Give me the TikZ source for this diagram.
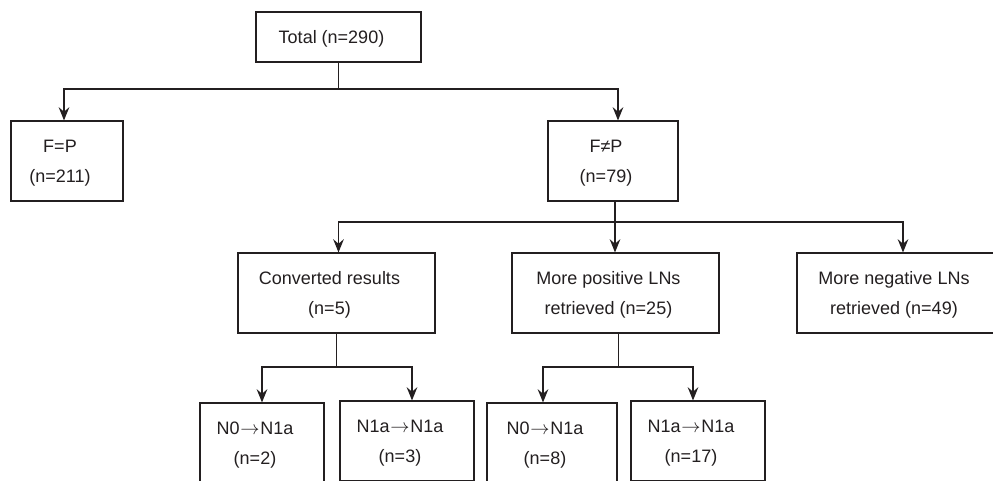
\documentclass[tikz,border=0pt]{standalone}
\usepackage{fontspec}
\setmainfont{Liberation Sans}
\usetikzlibrary{arrows.meta}
\definecolor{ink}{HTML}{231F20}
\newcommand{\tx}[1]{\begin{tabular}{@{}c@{}}#1\end{tabular}\hspace{10.5pt}}
\newcommand{\ar}{\kern0.5pt$\rightarrow$\kern0.5pt}
\begin{document}
\begin{tikzpicture}[x=0.75pt,y=-0.75pt,
  box/.style={draw=ink, line width=0.8pt, inner sep=0pt, text=ink,
    font=\fontsize{13.5}{22.5}\selectfont, align=center},
  conn/.style={draw=ink, line width=0.85pt},
  arr/.style={conn, -{Stealth[length=10pt,width=8pt,inset=3.5pt]}}]
\clip (0,0) rectangle (993,480);
\fill[white] (0,0) rectangle (993,480);
% nodes
\node[box, minimum width=123.75pt, minimum height=37.5pt] (total) at (338.5,37) {\tx{Total (n=290)}};
\node[box, minimum width=84pt, minimum height=60pt] (fp) at (67,161) {\tx{F=P\\(n=211)}};
\node[box, minimum width=97.5pt, minimum height=60pt] (fnp) at (613,161) {\tx{F≠P\\(n=79)}};
\node[box, minimum width=147.75pt, minimum height=60pt] (conv) at (336.5,293) {\tx{Converted results\\(n=5)}};
\node[box, minimum width=155.25pt, minimum height=60pt] (pos) at (615.5,293) {\tx{More positive LNs\\retrieved (n=25)}};
\node[box, minimum width=156pt, minimum height=60pt] (neg) at (901,293) {\tx{More negative LNs\\retrieved (n=49)}};
\node[box, minimum width=93pt, minimum height=60pt] (b1) at (262,443) {\tx{N0\ar N1a\\(n=2)}};
\node[box, minimum width=100.5pt, minimum height=60pt] (b2) at (407,441) {\tx{N1a\ar N1a\\(n=3)}};
\node[box, minimum width=97.5pt, minimum height=60pt] (b3) at (552,443) {\tx{N0\ar N1a\\(n=8)}};
\node[box, minimum width=100.5pt, minimum height=60pt] (b4) at (698,441) {\tx{N1a\ar N1a\\(n=17)}};
% junctions
\coordinate (j1) at (339,89);
\coordinate (j2) at (615,222);
\coordinate (j3) at (336,367);
\coordinate (j4) at (618,367);
% connectors
\draw[conn] (total.south) -- (total.south |- j1);
\draw[arr] (total.south |- j1) -| ([xshift=-2.25pt]fp.north);
\draw[arr] (total.south |- j1) -| ([xshift=3.75pt]fnp.north);
\draw[conn] ([xshift=1.5pt]fnp.south) -- ([xshift=1.5pt]fnp.south |- j2);
\draw[arr] ([xshift=1.5pt]fnp.south |- j2) -| ([xshift=1.5pt]conv.north);
\draw[arr] ([xshift=1.5pt]fnp.south |- j2) -- ([xshift=1.5pt]fnp.south |- pos.north);
\draw[arr] ([xshift=1.5pt]fnp.south |- j2) -| ([xshift=1.5pt]neg.north);
\draw[conn] (conv.south) -- (conv.south |- j3);
\draw[arr] (conv.south |- j3) -| (b1.north);
\draw[arr] (conv.south |- j3) -| ([xshift=3.75pt]b2.north);
\draw[conn] ([xshift=2pt]pos.south) -- ([xshift=2pt]pos.south |- j4);
\draw[arr] ([xshift=2pt]pos.south |- j4) -| ([xshift=-6.75pt]b3.north);
\draw[arr] ([xshift=2pt]pos.south |- j4) -| ([xshift=-3.75pt]b4.north);
\end{tikzpicture}
\end{document}
